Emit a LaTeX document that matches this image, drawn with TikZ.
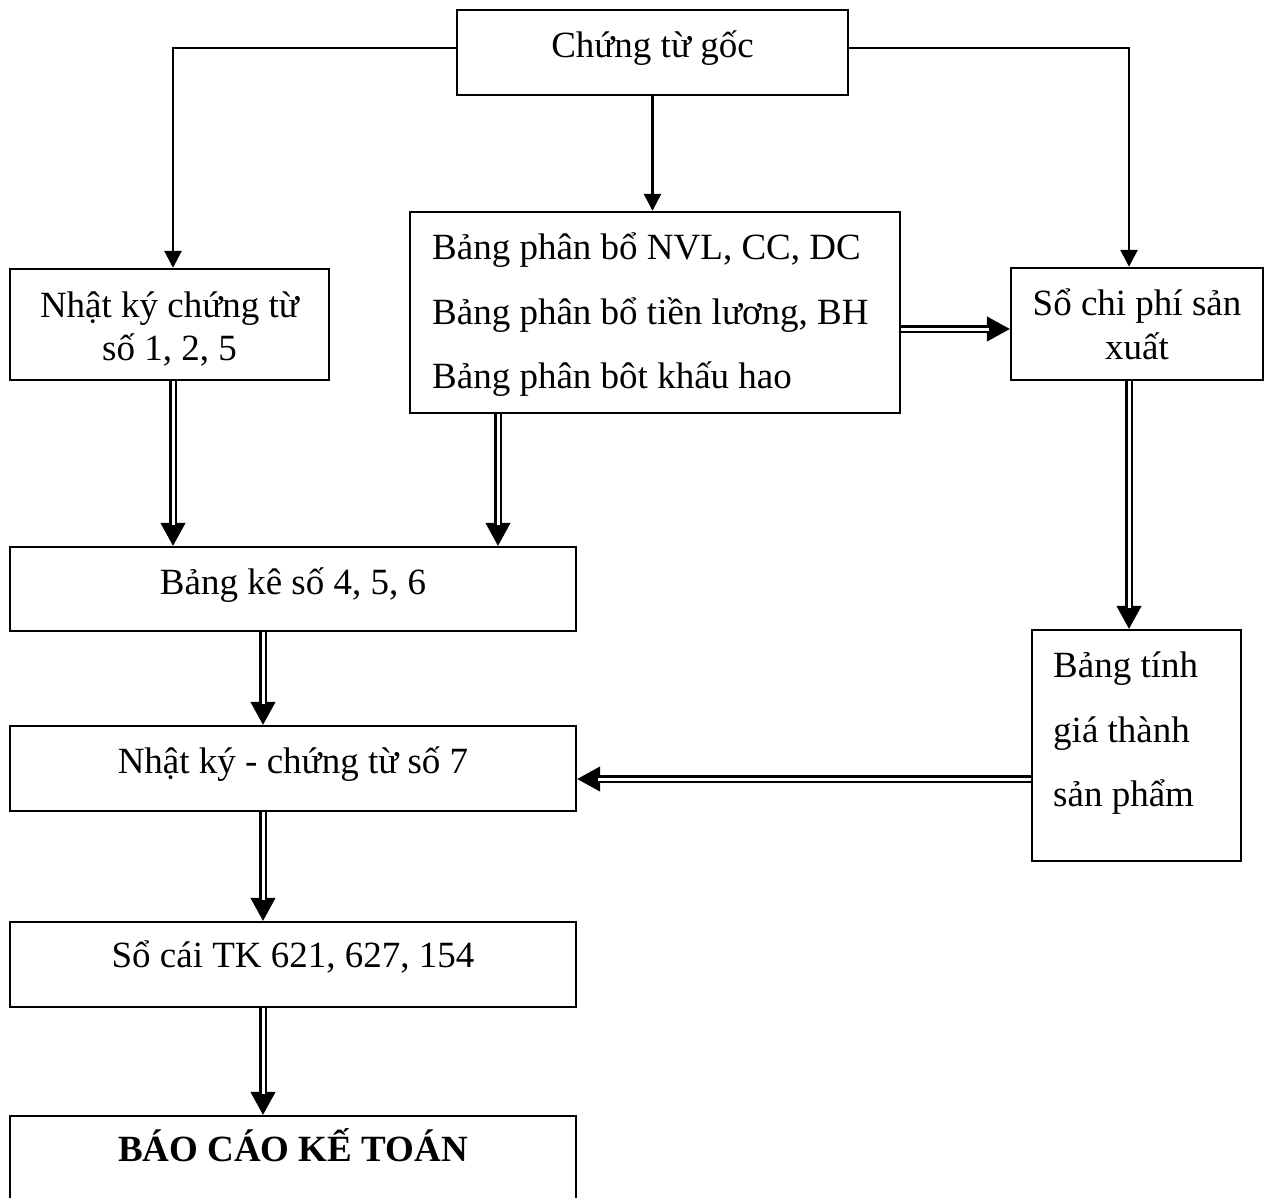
\documentclass[tikz,border=0pt]{standalone}
\usepackage{fontspec}
\setmainfont{Liberation Serif}
\usetikzlibrary{arrows.meta}

% double-shafted arrow: tip drawn first, the double shaft laid over it
\newcommand{\dblarrow}[2]{%
  \draw[dbltip] (#1) -- (#2);
  \draw[dblshaft] (#1) -- (#2);}

\begin{document}
\begin{tikzpicture}[x=1pt,y=-1pt,
  box/.style={draw, line width=2.4pt, inner sep=0pt, rectangle},
  txt/.style={inner sep=0pt, anchor=base, font=\fontsize{37}{44}\selectfont},
  ltxt/.style={txt, anchor=base west},
  single/.style={line width=2.8pt, -{Triangle[width=17pt,length=17pt]}},
  dblshaft/.style={double, double distance=3pt, line width=2.5pt, shorten >=21pt},
  dbltip/.style={line width=1pt, -{Triangle[width=25pt,length=23pt]}}]

\useasboundingbox (0,0) rectangle (1268,1198);

% boxes
\node[box, minimum width=391pt, minimum height=85pt]  (goc) at (652.5,52.5) {};
\node[box, minimum width=319pt, minimum height=111pt] (nk)  at (169.5,324.5) {};
\node[box, minimum width=490pt, minimum height=201pt] (bpb) at (655,312.5) {};
\node[box, minimum width=252pt, minimum height=112pt] (scp) at (1137,324) {};
\node[box, minimum width=566pt, minimum height=84pt]  (bk)  at (293,589) {};
\node[box, minimum width=566pt, minimum height=85pt]  (nks) at (293,768.5) {};
\node[box, minimum width=566pt, minimum height=85pt]  (sc)  at (293,964.5) {};
\node[box, minimum width=566pt, minimum height=114pt] (bc)  at (293,1173) {};
\node[box, minimum width=209pt, minimum height=231pt] (bt)  at (1136.5,745.5) {};

% texts
\node[txt] (goc-t) at (652.5,58) {Chứng từ gốc};
\node[txt] (nk-t1) at (169.5,317) {Nhật ký chứng từ};
\node[txt] (nk-t2) at (169.5,360) {số 1, 2, 5};
\node[ltxt] (bpb-t1) at (432,260) {Bảng phân bổ NVL, CC, DC};
\node[ltxt] (bpb-t2) at (432,324) {Bảng phân bổ tiền lương, BH};
\node[ltxt] (bpb-t3) at (432,388) {Bảng phân bôt khấu hao};
\node[txt] (scp-t1) at (1137,315) {Sổ chi phí sản};
\node[txt] (scp-t2) at (1137,359) {xuất};
\node[txt] (bk-t) at (293,594) {Bảng kê số 4, 5, 6};
\node[txt] (nks-t) at (293,773) {Nhật ký - chứng từ số 7};
\node[txt] (sc-t) at (293,967) {Sổ cái TK 621, 627, 154};
\node[txt, font=\fontsize{37}{44}\selectfont\bfseries] (bc-t) at (293,1161) {BÁO CÁO KẾ TOÁN};
\node[ltxt] (bt-t1) at (1053,677) {Bảng tính};
\node[ltxt] (bt-t2) at (1053,742) {giá thành};
\node[ltxt] (bt-t3) at (1053,806) {sản phẩm};

% single connectors from the source documents
\coordinate (gl) at ([yshift=4.5pt]goc.west);
\coordinate (gr) at ([yshift=4.5pt]goc.east);
\coordinate (nkin) at ([xshift=3.5pt]nk.north);
\coordinate (scpin) at ([xshift=-8pt]scp.north);
\draw[single] (gl) -| (nkin);
\draw[single] (gr) -| (scpin);
\draw[single] (goc.south) -- (goc.south |- bpb.north);

% double connectors
\coordinate (nkout) at ([xshift=3.5pt]nk.south);
\coordinate (bpbout) at ([xshift=-157pt]bpb.south);
\coordinate (bpbr) at ([yshift=-16.5pt]bpb.east);
\coordinate (scpout) at ([xshift=-8pt]scp.south);
\coordinate (btout) at ([yshift=-33.5pt]bt.west);
\coordinate (bkout) at ([xshift=-30pt]bk.south);
\coordinate (nksout) at ([xshift=-30pt]nks.south);
\coordinate (scout) at ([xshift=-30pt]sc.south);

\dblarrow{nkout}{nkout |- bk.north}
\dblarrow{bpbout}{bpbout |- bk.north}
\dblarrow{bpbr}{bpbr -| scp.west}
\dblarrow{scpout}{scpout |- bt.north}
\dblarrow{btout}{btout -| nks.east}
\dblarrow{bkout}{bkout |- nks.north}
\dblarrow{nksout}{nksout |- sc.north}
\dblarrow{scout}{scout |- bc.north}

\end{tikzpicture}
\end{document}
